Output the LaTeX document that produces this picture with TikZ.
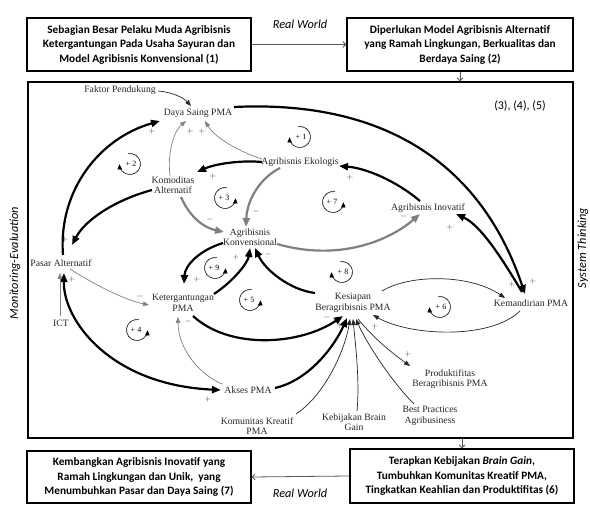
\documentclass[tikz,border=0pt]{standalone}
\usepackage{fontspec}
\setmainfont{Liberation Serif}
\newfontfamily\boxfont{Carlito}
\usetikzlibrary{arrows.meta,calc}
\begin{document}
\begin{tikzpicture}[x=1pt,y=-1pt,
  lbl/.style={font=\fontsize{9.7}{10.5}\selectfont, text=black!85, inner sep=1pt, align=center},
  sgn/.style={font=\fontsize{8.5}{8.5}\selectfont, text=black!75, inner sep=0pt},
  bx/.style={draw, line width=1.3pt, font=\boxfont\bfseries\fontsize{11.3}{14.5}\selectfont, align=center, minimum width=224pt, minimum height=53pt, inner sep=0pt},
  side/.style={font=\boxfont\itshape\fontsize{12.3}{12.3}\selectfont, inner sep=0pt},
  conn/.style={line width=0.8pt, draw=black!65, -{Straight Barb[length=3pt,width=6pt]}},
  thk/.style={line width=2.2pt, -{Triangle[length=9pt,width=7pt]}},
  thkg/.style={thk, draw=black!50},
  thn/.style={line width=0.7pt, draw=black!85, -{Triangle[length=6pt,width=4.5pt]}},
  thng/.style={thn, draw=black!50},
  loopc/.style={line width=0.6pt, -{Triangle[length=5pt,width=4.5pt]}},
  loopt/.style={font=\fontsize{8}{8}\selectfont, inner sep=0pt},
]
\fill[white] (0,0) rectangle (590,505);
\useasboundingbox (0,0) rectangle (590,505);

% boxes
\node[bx] (b1) at (139,44.5) {Sebagian Besar Pelaku Muda Agribisnis\\Ketergantungan Pada Usaha Sayuran dan\\Model Agribisnis Konvensional (1)};
\node[bx, minimum width=226pt] (b2) at (460,44.5) {Diperlukan Model Agribisnis Alternatif\\yang Ramah Lingkungan, Berkualitas dan\\Berdaya Saing (2)};
\node[bx, minimum height=52pt] (b7) at (139,477) {Kembangkan Agribisnis Inovatif yang\\Ramah Lingkungan dan Unik,\ \ yang\\Menumbuhkan Pasar dan Daya Saing (7)};
\node[bx, minimum height=54pt] (b6) at (462,476) {Terapkan Kebijakan \textit{Brain Gain},\\Tumbuhkan Komunitas Kreatif PMA,\\Tingkatkan Keahlian dan Produktifitas (6)};
\node[draw, line width=1.3pt, minimum width=545pt, minimum height=356pt, inner sep=0pt] (frame) at (300.5,260) {};

\node[side] (rw1) at (300,24) {Real World};
\node[side] (rw2) at (300,493) {Real World};
\node[side, rotate=90] (me) at (15,263) {Monitoring-Evaluation};
\node[side, rotate=90] (st) at (583,248) {System Thinking};
\node[font=\boxfont\fontsize{12}{12}\selectfont, inner sep=0pt] (nums) at (520,106) {(3), (4), (5)};

\draw[conn] (b1.east) -- (b2.west);
\draw[conn] (b2.south) -- (b2.south |- frame.north);
\draw[conn] (b6.north |- frame.south) -- (b6.north);
\draw[conn] (b6.west) -- (b7.east);

% variables
\node[lbl] (fp) at (120,90) {Faktor Pendukung};
\node[lbl] (dsp) at (198,113) {Daya Saing PMA};
\node[lbl] (eko) at (300,162) {Agribisnis Ekologis};
\node[lbl] (kom) at (173,185) {Komoditas\\Alternatif};
\node[lbl] (konv) at (250,237) {Agribisnis\\Konvensional};
\node[lbl] (ino) at (428,208) {Agribisnis Inovatif};
\node[lbl] (pasar) at (61,263) {Pasar Alternatif};
\node[lbl] (ket) at (183,303) {Ketergantungan\\PMA};
\node[lbl] (kes) at (353,303) {Kesiapan\\Beragribisnis PMA};
\node[lbl] (kem) at (531,303) {Kemandirian PMA};
\node[lbl] (ict) at (61,323) {ICT};
\node[lbl] (akses) at (248,390) {Akses PMA};
\node[lbl] (kreatif) at (257,426) {Komunitas Kreatif\\PMA};
\node[lbl] (brain) at (354,422) {Kebijakan Brain\\Gain};
\node[lbl] (best) at (430,416) {Best Practices\\Agribusiness};
\node[lbl] (prod) at (450,379) {Produktifitas\\Beragribisnis PMA};

% connectors
\draw[thn] ([shift={(38,1)}]fp.center) .. controls (172,92) and (184,98) .. ([shift={(-7,-7)}]dsp.center);
\draw[thk] ([shift={(2,-8)}]pasar.center) .. controls (58,190) and (100,138) .. ([shift={(-38,8)}]dsp.center);
\draw[thng] ([shift={(-3,-9)}]kom.center) .. controls (167,150) and (175,130) .. ([shift={(-12,8)}]dsp.center);
\draw[thng] ([shift={(-38,-3)}]eko.center) .. controls (240,152) and (215,138) .. ([shift={(7,8)}]dsp.center);
\draw[thk] ([shift={(-38,0)}]eko.center) .. controls (240,160) and (215,164) .. ([shift={(24,-13)}]kom.center);
\draw[thkg] ([shift={(-20,6)}]eko.center) .. controls (260,178) and (247,200) .. ([shift={(-4,-10)}]konv.center);
\draw[thkg] ([shift={(8,12)}]kom.center) .. controls (190,218) and (205,228) .. ([shift={(-26,-5)}]konv.center);
\draw[thkg] ([shift={(27,7)}]konv.center) .. controls (340,262) and (390,240) .. ([shift={(-8,6)}]ino.center);
\draw[thk] ([shift={(-8,-7)}]ino.center) .. controls (395,180) and (365,168) .. ([shift={(39,4)}]eko.center);
\draw[thk] ([shift={(36,-6)}]dsp.center) .. controls (380,100) and (480,160) .. ([shift={(-6,-9)}]kem.center);
\draw[thk] ([shift={(-9,-11)}]kem.center) .. controls (500,255) and (480,225) .. ([shift={(28,6)}]ino.center);
\draw[thn] ([shift={(29,-12)}]kes.center) .. controls (410,274) and (470,274) .. ([shift={(-26,-5)}]kem.center);
\draw[thn] ([shift={(-11,8)}]kem.center) .. controls (490,340) and (410,336) .. ([shift={(20,12)}]kes.center);
\draw[thk] ([shift={(-38,-10)}]kes.center) .. controls (290,290) and (265,270) .. ([shift={(5,11)}]konv.center);
\draw[thk] ([shift={(-27,6)}]konv.center) .. controls (200,250) and (185,265) .. ([shift={(1,-19)}]ket.center);
\draw[thk] ([shift={(31,-9)}]ket.center) .. controls (235,280) and (248,262) .. ([shift={(0,11)}]konv.center);
\draw[thk] ([shift={(10,13)}]ket.center) .. controls (230,350) and (300,345) .. ([shift={(-10,13)}]kes.center);
\draw[thng] ([shift={(-26,-6)}]akses.center) .. controls (195,372) and (178,345) .. ([shift={(-5,14)}]ket.center);
\draw[thk, {Triangle[length=9pt,width=7pt]}-{Triangle[length=9pt,width=7pt]}] ([shift={(3,10)}]pasar.center) .. controls (63,320) and (110,385) .. ([shift={(-27,0)}]akses.center);
\draw[thng] ([shift={(-1,-7)}]ict.center) -- ([shift={(-1,10)}]pasar.center);
\draw[thng] ([shift={(9,6)}]pasar.center) .. controls (95,285) and (125,300) .. ([shift={(-34,2)}]ket.center);
\draw[thk] ([shift={(-21,5)}]kom.center) .. controls (115,200) and (85,220) .. ([shift={(11,-18)}]pasar.center);
\draw[thk] ([shift={(27,-2)}]akses.center) .. controls (310,380) and (335,345) .. ([shift={(-6,15)}]kes.center);
\draw[thn] ([shift={(39,-12)}]kreatif.center) .. controls (325,395) and (345,350) .. ([shift={(-3,16)}]kes.center);
\draw[thn] ([shift={(3,-11)}]brain.center) .. controls (360,380) and (355,340) .. ([shift={(0,16)}]kes.center);
\draw[thn] ([shift={(-16,-12)}]best.center) .. controls (390,380) and (365,340) .. ([shift={(3,16)}]kes.center);
\draw[thn] ([shift={(5,16)}]kes.center) .. controls (375,340) and (395,355) .. ([shift={(-40,-13)}]prod.center);

% polarity signs
\foreach \x/\y/\s [count=\i] in {152/132/+,190/132/+,202/132/+,213/177/+,256/212/-,210/220/-,350/178/+,404/217/-,450/228/+,533/282/+,512/285/+,375/327/+,65/240/+,72/280/+,140/297/-,197/280/+,236/258/+,268/255/-,327/318/-,188/322/-,208/400/+,340/326/+,408/355/+}
  \node[sgn] (s\i) at (\x,\y) {$\s$};

% loop markers (left arrow)
\foreach \x/\y/\n in {300/137/1,130/164/2,342/272/8,440/307/6}{
  \node[loopt] (loop\n) at (\x+1,\y) {+ \n};
  \draw[loopc] ([shift={(100:10.5pt)}]\x,\y) arc[start angle=100,end angle=-178,radius=10.5pt];
}
% loop markers (right arrow)
\foreach \x/\y/\n in {225/198/3,333/202/7,215/268/9,250/300/5,137/330/4}{
  \node[loopt] (loop\n) at (\x-1,\y) {+ \n};
  \draw[loopc] ([shift={(80:10.5pt)}]\x,\y) arc[start angle=80,end angle=358,radius=10.5pt];
}
\end{tikzpicture}
\end{document}
